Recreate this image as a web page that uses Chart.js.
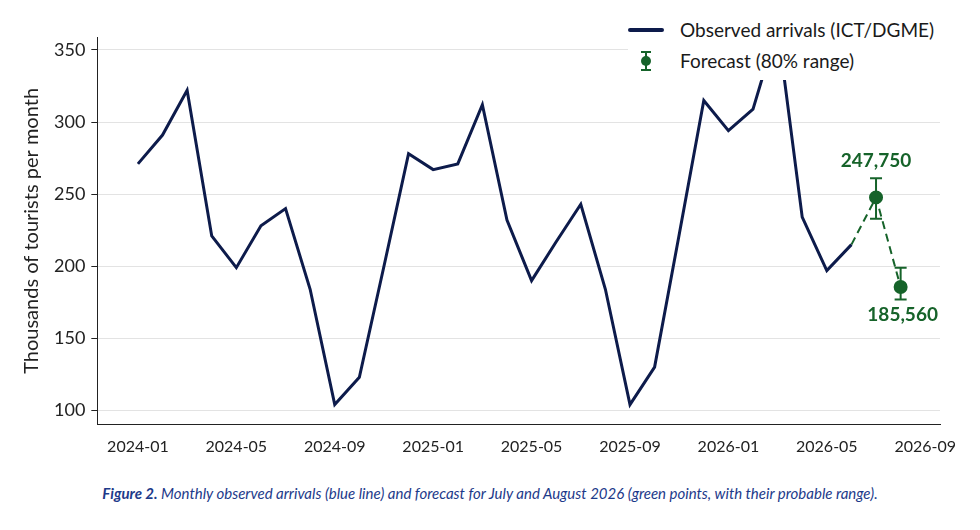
<!DOCTYPE html>
<html>
<head>
<meta charset="utf-8">
<script src="https://cdn.jsdelivr.net/npm/chart.js@4"></script>
<style>
  body { margin: 0; background: #fff; font-family: Lato, sans-serif; }
  #wrap { position: relative; width: 980px; height: 462px; }
  #legend { position: absolute; left: 628px; top: 14px; width: 330px; height: 66px; background: #fff;
            font-size: 19px; color: #1a1a1a; }
  #legend div { display: flex; align-items: center; height: 31px; }
  .sw { width: 36px; margin-right: 16px; display: flex; justify-content: center; }
  #caption { position: absolute; left: 0; top: 484px; width: 980px; text-align: center;
             font-style: italic; font-size: 15px; color: #1d3a8a; }
</style>
</head>
<body>
<div id="wrap"><canvas id="c" width="980" height="462"></canvas>
  <div id="legend">
    <div><span class="sw"><svg width="36" height="6"><rect y="1" width="36" height="4" rx="2" fill="#0d1b4b"/></svg></span>Observed arrivals (ICT/DGME)</div>
    <div><span class="sw"><svg width="16" height="24"><line x1="3" y1="3" x2="13" y2="3" stroke="#16632a" stroke-width="2"/><line x1="8" y1="3" x2="8" y2="21" stroke="#16632a" stroke-width="2"/><line x1="3" y1="21" x2="13" y2="21" stroke="#16632a" stroke-width="2"/><circle cx="8" cy="12" r="5" fill="#16632a"/></svg></span>Forecast (80% range)</div>
  </div>
</div>
<div id="caption"><b>Figure 2.</b> Monthly observed arrivals (blue line) and forecast for July and August 2026 (green points, with their probable range).</div>
<script>
// month index 0 = 2024-01
const months = ['2024-01','2024-02','2024-03','2024-04','2024-05','2024-06','2024-07','2024-08','2024-09','2024-10','2024-11','2024-12',
  '2025-01','2025-02','2025-03','2025-04','2025-05','2025-06','2025-07','2025-08','2025-09','2025-10','2025-11','2025-12',
  '2026-01','2026-02','2026-03','2026-04','2026-05','2026-06','2026-07','2026-08','2026-09'];
const observed = [271, 291, 322, 221, 199, 228, 240, 184, 104, 123, 200, 278,
  267, 271, 312, 232, 190, 217, 243, 184, 104, 130, 222, 315,
  294, 309, 366, 234, 197, 215];
const forecastIdx = [29, 30, 31];
const forecast = [215, 247.75, 185.56];
const forecastLow = [null, 233, 177];
const forecastHigh = [null, 261, 199];
const forecastLabels = [null, '247,750', '185,560'];
const tickIdx = [0, 4, 8, 12, 16, 20, 24, 28, 32];

const navy = '#0d1b4b', green = '#16632a';

const errorBars = {
  id: 'errorBars',
  afterDatasetsDraw(chart) {
    const ctx = chart.ctx, x = chart.scales.x, y = chart.scales.y;
    ctx.save();
    ctx.strokeStyle = green; ctx.fillStyle = green; ctx.lineWidth = 2;
    forecastIdx.forEach((m, i) => {
      if (forecastLow[i] == null) return;
      const px = x.getPixelForValue(m), lo = y.getPixelForValue(forecastLow[i]), hi = y.getPixelForValue(forecastHigh[i]);
      ctx.beginPath();
      ctx.moveTo(px, lo); ctx.lineTo(px, hi);
      ctx.moveTo(px - 6, lo); ctx.lineTo(px + 6, lo);
      ctx.moveTo(px - 6, hi); ctx.lineTo(px + 6, hi);
      ctx.stroke();
      ctx.font = 'bold 19px Lato';
      ctx.textAlign = 'center';
      if (i === 1) { ctx.textBaseline = 'bottom'; ctx.fillText(forecastLabels[i], px, hi - 8); }
      else { ctx.textBaseline = 'top'; ctx.fillText(forecastLabels[i], px + 2, lo + 6); }
    });
    ctx.restore();
  }
};

new Chart(document.getElementById('c'), {
  type: 'line',
  data: {
    datasets: [
      {
        label: 'Observed arrivals (ICT/DGME)',
        data: observed.map((v, i) => ({ x: i, y: v })),
        borderColor: navy, borderWidth: 3, pointRadius: 0, tension: 0, fill: false
      },
      {
        label: 'Forecast (80% range)',
        data: forecastIdx.map((m, i) => ({ x: m, y: forecast[i] })),
        borderColor: green, backgroundColor: green, borderWidth: 2, borderDash: [8, 5],
        pointRadius: forecast.map((v, i) => i === 0 ? 0 : 6), tension: 0, fill: false
      }
    ]
  },
  options: {
    responsive: false, animation: false,
    layout: { padding: { top: 37, right: 40, left: 16, bottom: 0 } },
    plugins: { legend: { display: false }, tooltip: { enabled: false } },
    scales: {
      x: {
        type: 'linear', min: -1.65, max: 32.6,
        afterBuildTicks: s => { s.ticks = tickIdx.map(v => ({ value: v })); },
        ticks: { callback: v => months[v], color: '#222', font: { family: 'Lato', size: 16 }, padding: 6 },
        grid: { display: false, drawTicks: true, tickLength: 6 },
        border: { color: '#222', width: 1 }
      },
      y: {
        min: 90, max: 359,
        afterBuildTicks: s => { s.ticks = [100, 150, 200, 250, 300, 350].map(v => ({ value: v })); },
        ticks: { color: '#222', font: { family: 'Lato', size: 18 }, padding: 6 },
        grid: { color: '#e3e3e3', drawTicks: true, tickColor: '#222', tickLength: 6 },
        border: { color: '#222', width: 1 },
        title: { display: true, text: 'Thousands of tourists per month', color: '#222', font: { family: 'Lato', size: 20 } }
      }
    }
  },
  plugins: [errorBars]
});
</script>
</body>
</html>
